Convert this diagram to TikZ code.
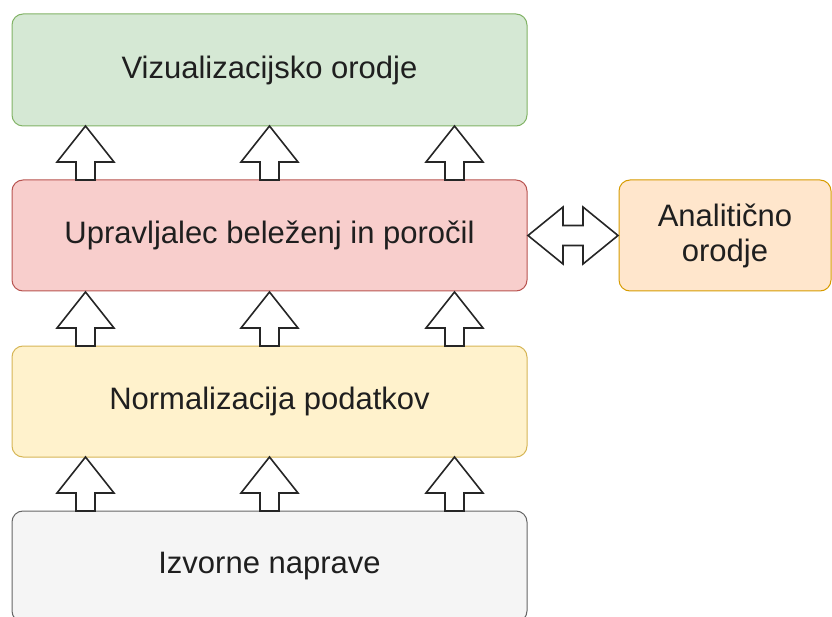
\documentclass[tikz,border=0pt]{standalone}
\usepackage{fontspec}
\setmainfont{Liberation Sans}
\usetikzlibrary{positioning}
\definecolor{vizfill}{HTML}{D5E8D4}
\definecolor{vizline}{HTML}{82B366}
\definecolor{logfill}{HTML}{F8CECC}
\definecolor{logline}{HTML}{B85450}
\definecolor{normfill}{HTML}{FFF2CC}
\definecolor{normline}{HTML}{D6B656}
\definecolor{srcfill}{HTML}{F5F5F5}
\definecolor{srcline}{HTML}{666666}
\definecolor{anafill}{HTML}{FFE6CC}
\definecolor{analine}{HTML}{D79B00}
\tikzset{
    %Define style for layer boxes
    layer/.style={
           rectangle,
           rounded corners=11pt,
           line width=1pt,
           outer sep=0pt,
           minimum width=515pt,
           minimum height=111pt,
           font=\fontsize{31}{35}\selectfont,
           text=black!88,
           align=center},
    viz/.style={layer, draw=vizline, fill=vizfill, minimum height=112pt},
    logm/.style={layer, draw=logline, fill=logfill},
    norm/.style={layer, draw=normline, fill=normfill},
    src/.style={layer, draw=srcline, fill=srcfill},
    tool/.style={layer, draw=analine, fill=anafill, minimum width=212pt},
    % Define block arrow style
    blok/.style={
           draw=black!85,
           fill=white,
           line width=1.6pt,
           line join=miter}
}
\begin{document}
\begin{tikzpicture}[x=1pt,y=1pt,node distance=54pt]
\useasboundingbox (0,0) rectangle (832,-617);
\node[viz](vt) at (269.5,-70){Vizualizacijsko orodje};
\node[logm, below=of vt](lm){Upravljalec beleženj in poročil};
\node[norm, below=55pt of lm](np){Normalizacija podatkov};
\node[src, below=of np](iz){Izvorne naprave};
\node[tool, right=92pt of lm](ao){Analitično\\orodje};
% block arrows between the layers
\foreach \lo in {iz,np,lm}
  \foreach \x in {-184,0,185}
    \draw[blok] ([xshift=\x pt]\lo.north) ++(-9.5,0) -- ++(0,18) -- ++(-19,0)
      -- ++(28.5,36) -- ++(28.5,-36) -- ++(-19,0) -- ++(0,-18) -- cycle;
\draw[blok] ([xshift=1pt]lm.east) -- ++(35,28.5) -- ++(0,-18.5) -- ++(20,0)
  -- ++(0,18.5) -- ++(35,-28.5) -- ++(-35,-28.5) -- ++(0,18.5)
  -- ++(-20,0) -- ++(0,-18.5) -- cycle;
\end{tikzpicture}
\end{document}
